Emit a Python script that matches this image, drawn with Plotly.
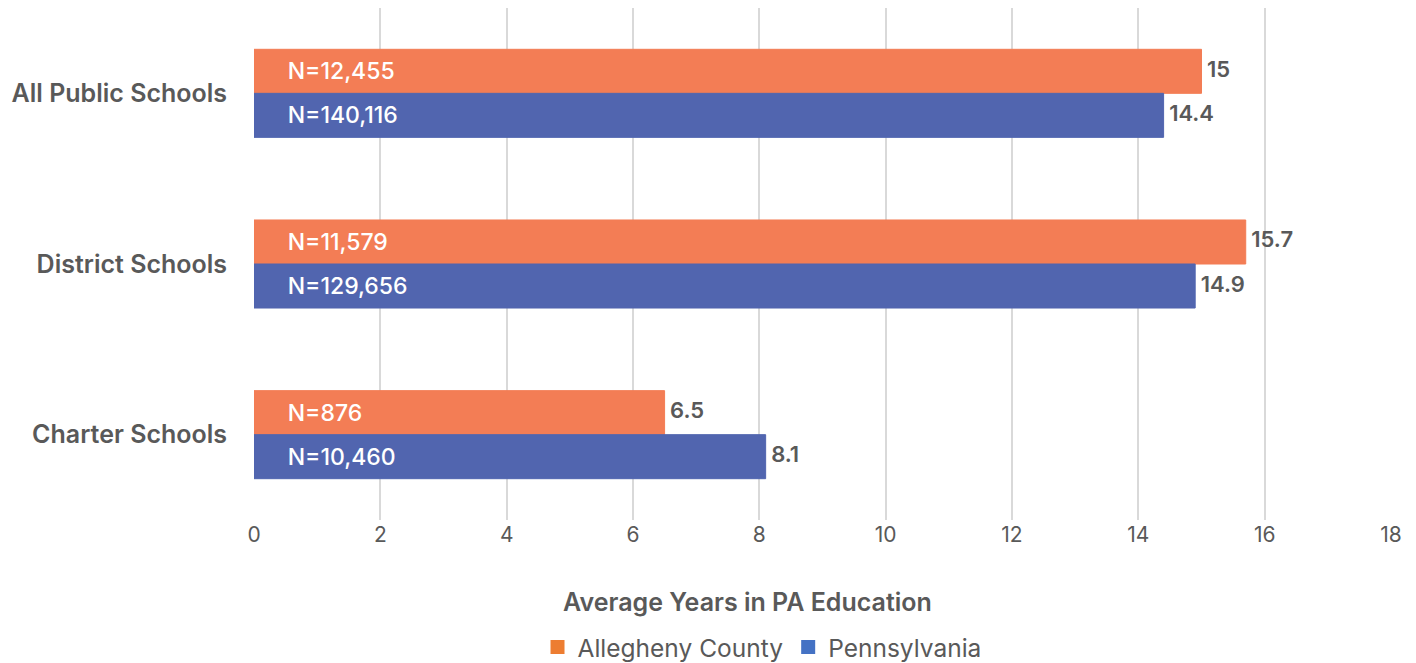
import plotly.graph_objects as go

categories = ["All Public Schools", "District Schools", "Charter Schools"]
allegheny_vals = [15, 15.7, 6.5]
pennsylvania_vals = [14.4, 14.9, 8.1]
allegheny_n = ["N=12,455", "N=11,579", "N=876"]
pennsylvania_n = ["N=140,116", "N=129,656", "N=10,460"]
series_names = ["Allegheny County", "Pennsylvania"]

ORANGE = "#F37D55"
BLUE = "#5165AF"
LEG_ORANGE = "#ED7D31"
LEG_BLUE = "#4472C4"
GREY = "#595959"
FONT = "Inter"
PAD = "\u00a0" * 5

fig = go.Figure()
for name, vals, ns, col, grp in [
    (series_names[0], allegheny_vals, allegheny_n, ORANGE, "a"),
    (series_names[1], pennsylvania_vals, pennsylvania_n, BLUE, "p"),
]:
    fig.add_trace(go.Bar(
        name=name, y=categories, x=vals, orientation="h", offsetgroup=grp,
        marker=dict(color=col, line=dict(color=col, width=1)),
        text=[PAD + n for n in ns], textposition="inside", insidetextanchor="start",
        textfont=dict(family=FONT, size=23, color="white", weight=500), textangle=0,
        hoverinfo="skip", showlegend=False,
    ))
for vals, grp in [(allegheny_vals, "a"), (pennsylvania_vals, "p")]:
    fig.add_trace(go.Scatter(
        y=categories, x=vals, orientation="h", offsetgroup=grp, mode="text",
        text=["\u00a0" + f"{v:g}" for v in vals], textposition="middle right",
        textfont=dict(family=FONT, size=22, color=GREY, weight=600),
        showlegend=False, hoverinfo="skip",
    ))
# legend entries
for name, col, grp in [(series_names[0], LEG_ORANGE, "a"), (series_names[1], LEG_BLUE, "p")]:
    fig.add_trace(go.Scatter(
        x=[None], y=[None], mode="markers", name=name, offsetgroup=grp, orientation="h",
        marker=dict(symbol="square", size=14, color=col), hoverinfo="skip",
    ))

fig.update_layout(
    width=1408, height=655,
    margin=dict(l=246, r=25, t=0, b=143),
    paper_bgcolor="white", plot_bgcolor="white",
    barmode="group", bargap=0.484, bargroupgap=0,
    scattermode="group",
    font=dict(family=FONT, color=GREY),
    xaxis=dict(range=[0, 18], dtick=2, showgrid=True, gridcolor="#d9d9d9", gridwidth=2,
               zeroline=False, showline=False, ticks="", automargin=False,
               tickfont=dict(size=21, color=GREY, family=FONT)),
    yaxis=dict(autorange="reversed", showgrid=False, ticks="", showline=False,
               ticklabelstandoff=26, automargin=False,
               tickfont=dict(size=25, color=GREY, family=FONT, weight=600)),
    legend=dict(orientation="h", x=0.4468, xanchor="center", yref="container",
                y=0.0244, yanchor="middle",
                font=dict(size=24.5, color=GREY, family=FONT), itemwidth=30),
    annotations=[dict(text="Average Years in PA Education", xref="paper", yref="paper",
                      x=0.4336, y=-0.160, xanchor="center", yanchor="middle", showarrow=False,
                      font=dict(size=25, color=GREY, family=FONT, weight=600))],
)
fig.write_html("out.html")
